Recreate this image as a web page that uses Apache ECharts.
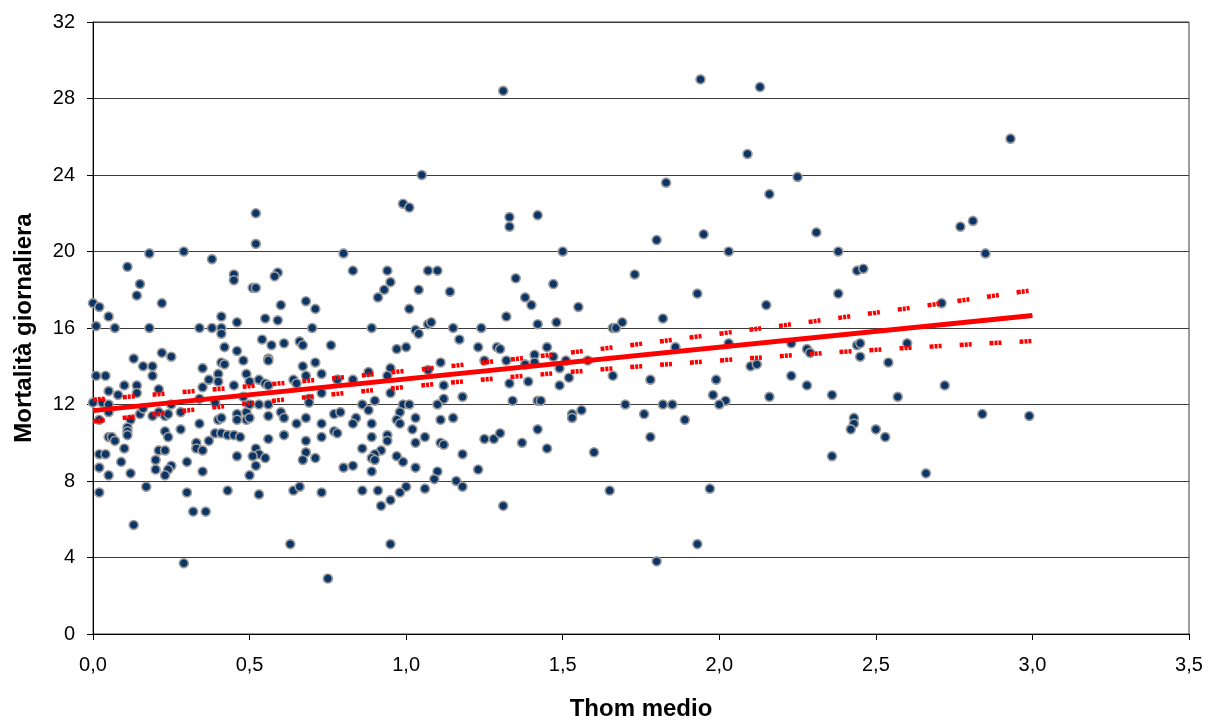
<!DOCTYPE html>
<html>
<head>
<meta charset="utf-8">
<script src="https://cdn.jsdelivr.net/npm/echarts@6/dist/echarts.min.js"></script>
<style>
  html, body { margin: 0; padding: 0; background: #ffffff; }
  #chart { width: 1209px; height: 722px; }
</style>
</head>
<body>
<div id="chart"></div>
<script>
// Daily mortality against mean Thom index, one point per day
const thomMedio = [
  0.18,0.29,0.38,0.11,0.45,0.45,0.15,0.14,0.22,0.00,0.02,0.05,0.41,0.46,0.01,0.07,0.18,0.34,0.38,0.41,
  0.41,0.42,0.46,0.22,0.25,0.13,0.48,0.41,0.42,0.16,0.19,0.35,0.19,0.01,0.04,0.40,0.37,0.40,0.49,0.45,
  0.10,0.14,0.05,0.14,0.21,0.35,0.08,0.34,0.48,0.00,0.03,0.05,0.05,0.02,0.12,0.15,0.16,0.19,0.21,0.23,
  0.24,0.25,0.28,0.39,0.34,0.40,0.41,0.46,0.49,0.46,0.49,0.11,0.11,0.11,0.23,0.24,0.28,0.39,0.41,0.43,
  0.45,0.47,0.05,0.06,0.07,0.33,0.37,0.33,0.35,0.10,0.21,0.23,0.02,0.04,0.46,0.30,0.09,0.20,0.02,0.20,
  0.25,0.24,0.23,0.12,0.05,0.35,0.50,0.02,0.17,0.30,0.43,0.32,0.36,0.13,0.29,
  0.52,0.99,1.01,0.52,0.80,0.83,0.94,0.59,0.58,0.95,0.51,0.52,0.93,0.91,0.68,0.60,0.71,1.01,0.55,0.59,
  0.70,0.89,0.54,0.57,0.61,0.66,0.67,0.76,0.97,1.00,0.56,0.56,0.71,0.67,0.95,0.50,0.53,0.55,0.56,0.64,
  0.65,0.68,0.73,0.78,0.83,0.88,0.94,0.95,0.73,0.69,0.50,0.53,0.56,0.69,0.86,0.90,0.88,0.99,1.01,0.50,
  0.56,0.60,0.61,0.65,0.68,0.73,0.77,0.79,0.84,0.83,0.89,0.98,0.97,0.98,1.02,0.61,0.56,0.68,0.73,0.77,
  0.78,0.89,0.94,0.94,0.52,0.53,0.51,0.55,0.68,0.67,0.71,0.86,0.92,0.90,0.89,0.90,0.97,0.99,0.52,0.80,
  0.83,0.89,0.53,0.64,0.66,0.73,0.86,0.91,1.00,0.98,0.95,0.92,0.63,0.95,0.75,
  1.05,1.33,1.42,1.33,1.50,1.07,1.10,1.35,1.04,1.14,1.47,1.38,1.40,1.32,1.07,1.08,1.03,1.04,1.15,1.24,
  1.42,1.48,1.17,1.23,1.29,1.30,1.45,1.41,1.11,1.25,1.32,1.38,1.41,1.47,1.51,1.07,1.49,1.52,1.12,1.33,
  1.39,1.49,1.12,1.18,1.10,1.34,1.42,1.43,1.03,1.11,1.15,1.06,1.03,1.11,1.12,1.25,1.28,1.30,1.37,1.42,
  1.45,1.18,1.03,1.10,1.23,1.09,1.06,1.16,1.18,1.31,1.31,
  1.94,1.83,1.80,1.95,2.03,1.73,1.93,1.55,1.66,1.67,1.69,1.82,1.86,2.03,1.58,1.66,1.78,1.99,1.98,2.02,
  2.00,1.70,1.82,1.85,1.56,1.53,1.53,1.76,1.89,1.78,1.60,1.65,1.97,1.93,1.80,
  2.13,2.09,2.25,2.16,2.31,2.38,2.44,2.46,2.38,2.15,2.23,2.28,2.29,2.44,2.45,2.45,2.10,2.12,2.54,2.23,
  2.28,2.36,2.16,2.57,2.43,2.43,2.42,2.50,2.53,2.36,
  2.93,2.77,2.81,2.85,2.71,2.60,2.72,2.84,2.99,2.66
];
const mortalita = [
  19.9,20.0,19.6,19.2,18.8,18.5,18.3,17.7,17.3,17.3,17.1,16.6,16.6,16.3,16.1,16.0,16.0,16.0,16.0,16.0,
  15.7,15.0,14.8,14.7,14.5,14.4,14.3,14.2,14.1,14.0,14.0,13.9,13.5,13.5,13.5,13.6,13.3,13.2,13.6,13.0,
  13.0,13.0,12.7,12.6,12.8,12.9,12.5,12.3,12.4,12.1,12.1,12.0,11.6,11.2,11.2,11.5,11.8,11.4,11.6,11.4,
  11.5,12.0,11.6,12.1,11.0,11.2,11.3,11.5,11.6,11.2,11.2,10.8,10.6,10.4,10.6,10.3,10.7,10.5,10.5,10.4,
  10.4,10.3,10.3,10.3,10.1,10.0,10.1,9.7,9.6,9.7,9.6,9.6,9.4,9.4,9.3,9.0,9.0,9.1,8.7,8.6,
  8.8,8.6,8.3,8.4,8.3,8.5,8.3,7.4,7.7,7.4,7.5,6.4,6.4,5.7,3.7,
  22.0,22.5,22.3,20.4,19.9,19.0,19.0,18.9,18.7,18.4,18.1,18.1,18.0,17.6,17.4,17.2,17.0,17.0,16.5,16.4,
  16.0,16.0,15.4,15.1,15.2,15.3,15.1,15.1,14.9,15.0,14.4,14.3,14.2,14.0,13.9,13.2,13.3,13.1,13.0,13.3,
  13.1,13.5,13.6,13.3,13.3,13.7,13.5,12.6,12.6,12.3,12.0,12.0,12.0,12.1,12.0,12.2,11.7,12.0,12.0,11.3,
  11.4,11.6,11.3,11.0,11.3,11.0,11.5,11.6,11.3,11.0,11.0,11.6,11.2,11.0,10.7,10.4,10.2,10.1,10.3,10.6,
  10.5,10.3,10.4,10.1,9.7,9.4,9.3,9.2,9.5,9.1,9.2,9.7,9.6,9.4,9.2,9.1,9.3,9.0,8.8,8.7,
  8.8,8.5,7.3,7.5,7.7,7.4,7.5,7.5,7.7,7.4,7.0,6.7,4.7,4.7,2.9,
  24.0,21.8,21.9,21.3,20.0,19.0,19.0,18.6,18.0,17.9,18.3,17.6,17.2,16.6,16.2,16.3,15.9,15.7,16.0,16.0,
  16.2,16.3,15.4,15.0,15.0,14.9,15.0,14.6,14.2,14.3,14.3,14.1,14.2,14.5,14.3,13.8,13.9,13.4,13.0,13.1,
  13.2,13.0,12.3,12.4,12.0,12.2,12.2,12.2,11.3,11.2,11.3,10.3,10.0,10.0,9.9,10.2,10.2,10.5,10.0,10.7,
  9.7,9.4,8.7,8.5,8.6,8.1,7.6,8.0,7.7,6.7,28.4,
  29.0,23.6,20.6,20.9,20.0,18.8,17.8,17.1,16.0,16.0,16.3,16.5,15.0,15.2,14.3,13.5,13.3,13.3,12.5,12.2,
  12.0,12.0,12.0,12.0,11.7,11.5,11.3,11.5,11.2,10.3,9.5,7.5,7.6,4.7,3.8,
  28.6,25.1,23.9,23.0,21.0,20.0,19.0,19.1,17.8,17.2,15.2,14.9,14.7,15.1,15.2,14.5,14.0,14.1,14.2,13.5,
  13.0,12.5,12.4,12.4,11.3,11.0,10.7,10.7,10.3,9.3,
  25.9,21.3,21.6,19.9,17.3,15.2,13.0,11.5,11.4,8.4
];

// Fitted linear trend and its confidence limits
const trendX = [0, 3.0];
const trendY = [11.68, 16.65];
const bandX = [0, 0.5, 1.0, 1.5, 2.0, 2.5, 3.0];
const bandUpper = [12.25, 12.96, 13.76, 14.67, 15.70, 16.80, 17.98];
const bandLower = [11.11, 12.06, 12.92, 13.67, 14.30, 14.86, 15.32];

const pairs = (xs, ys) => xs.map((x, i) => [x, ys[i]]);
const comma = v => v.toFixed(1).replace('.', ',');
const FONT = '"Liberation Sans", Arial, sans-serif';

const chart = echarts.init(document.getElementById('chart'), null, { renderer: 'canvas' });
const dash = [4, 1, 3, 1, 3, 18];

chart.setOption({
  animation: false,
  backgroundColor: '#ffffff',
  textStyle: { fontFamily: FONT },
  grid: {
    left: 93, right: 20, top: 22, bottom: 88,
    containLabel: false, outerBoundsMode: 'none',
    show: true, borderColor: '#3a3a3a', borderWidth: 1, backgroundColor: 'transparent'
  },
  xAxis: {
    type: 'value', min: 0, max: 3.5, interval: 0.5,
    name: 'Thom medio', nameLocation: 'middle', nameGap: 63,
    nameTextStyle: { fontFamily: FONT, fontSize: 24, fontWeight: 'bold', color: '#000' },
    axisLine: { show: true, onZero: false, lineStyle: { color: '#000', width: 1 } },
    axisTick: { show: true, inside: false, length: 6, lineStyle: { color: '#000' } },
    splitLine: { show: false },
    axisLabel: { fontFamily: FONT, fontSize: 20, color: '#000', margin: 21, formatter: comma }
  },
  yAxis: {
    type: 'value', min: 0, max: 32, interval: 4,
    name: 'Mortalità giornaliera', nameLocation: 'middle', nameGap: 57, nameRotate: 90,
    nameTextStyle: { fontFamily: FONT, fontSize: 24, fontWeight: 'bold', color: '#000' },
    axisLine: { show: true, lineStyle: { color: '#000', width: 1 } },
    axisTick: { show: true, inside: false, length: 6, lineStyle: { color: '#000' } },
    splitLine: { show: true, lineStyle: { color: '#3a3a3a', width: 1 } },
    axisLabel: { fontFamily: FONT, fontSize: 20, color: '#000', margin: 18 }
  },
  series: [
    {
      type: 'scatter',
      data: pairs(thomMedio, mortalita),
      symbol: 'circle', symbolSize: 9,
      itemStyle: { color: '#0b3566', borderColor: '#9c9c9c', borderWidth: 1.6, opacity: 1 },
      emphasis: { disabled: true },
      z: 2
    },
    {
      type: 'line',
      data: pairs(bandX, bandUpper),
      symbol: 'none', smooth: 0.4,
      lineStyle: { color: '#ff0000', width: 4.5, type: dash },
      z: 3
    },
    {
      type: 'line',
      data: pairs(bandX, bandLower),
      symbol: 'none', smooth: 0.4,
      lineStyle: { color: '#ff0000', width: 4.5, type: dash },
      z: 3
    },
    {
      type: 'line',
      data: pairs(trendX, trendY),
      symbol: 'none',
      lineStyle: { color: '#ff0000', width: 5 },
      z: 4
    }
  ]
});
</script>
</body>
</html>
